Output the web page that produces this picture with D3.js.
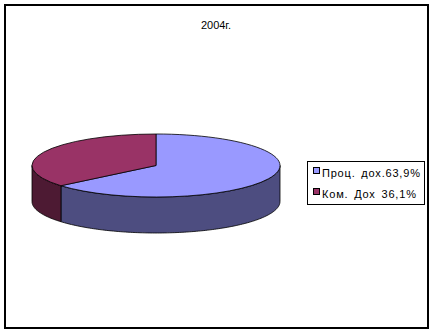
<!DOCTYPE html>
<html>
<head>
<meta charset="utf-8">
<script src="https://cdn.jsdelivr.net/npm/d3@7"></script>
<style>
  body { margin: 0; background: #fff; }
  text { font-family: "Liberation Sans", Arial, sans-serif; fill: #000; }
</style>
</head>
<body>
<div id="chart"></div>
<script>
var
  width = 433,
  height = 333,
  title = '2004г.',
  labels = ['Проц. дох.63,9%', 'Ком. Дох 36,1%'],
  values = [63.9, 36.1],
  topColors = ['#9999ff', '#993366'],
  sideColors = ['#4d4d80', '#4d1a33'];

var
  cx = 156,
  cy = 165.5,
  rx = 124,
  ry = 31.5,
  depth = 36;

var svg = d3.select('#chart').append('svg')
  .attr('width', width)
  .attr('height', height);

// outer frame
svg.append('rect')
  .attr('x', 5).attr('y', 5)
  .attr('width', 423).attr('height', 323)
  .attr('fill', '#fff')
  .attr('stroke', '#000')
  .attr('stroke-width', 2);

svg.append('text')
  .attr('x', 216)
  .attr('y', 29)
  .attr('text-anchor', 'middle')
  .attr('font-size', '11px')
  .text(title);

var pie = d3.pie().sort(null).startAngle(0).endAngle(2 * Math.PI);
var arcs = pie(values);

function pt(a, dy) {
  return [cx + rx * Math.sin(a), cy - ry * Math.cos(a) + (dy || 0)];
}

// side walls, only the front half (PI/2 .. 3PI/2) is visible
var sides = svg.append('g').attr('class', 'sides');
arcs.forEach(function(d, i) {
  var a0 = Math.max(d.startAngle, Math.PI / 2),
      a1 = Math.min(d.endAngle, Math.PI * 3 / 2);
  if (a1 <= a0) return;
  var steps = d3.range(a0, a1, 0.02).concat([a1]);
  var p = d3.path();
  steps.forEach(function(a, k) {
    var q = pt(a);
    if (k === 0) p.moveTo(q[0], q[1]); else p.lineTo(q[0], q[1]);
  });
  steps.slice().reverse().forEach(function(a) {
    var q = pt(a, depth);
    p.lineTo(q[0], q[1]);
  });
  p.closePath();
  sides.append('path')
    .attr('d', p.toString())
    .attr('fill', sideColors[i])
    .attr('stroke', '#000')
    .attr('stroke-width', 0.8)
    .attr('stroke-linejoin', 'round');
});

// top faces
var arc = d3.arc().innerRadius(0).outerRadius(rx);
svg.append('g')
  .attr('transform', 'translate(' + cx + ',' + cy + ') scale(1,' + (ry / rx) + ')')
  .selectAll('path')
  .data(arcs)
  .enter().append('path')
  .attr('d', arc)
  .attr('fill', function(d, i) { return topColors[i]; })
  .attr('stroke', '#000')
  .attr('stroke-width', 0.8)
  .attr('vector-effect', 'non-scaling-stroke');

// legend
var legend = svg.append('g').attr('class', 'legend');
legend.append('rect')
  .attr('x', 307.5).attr('y', 161.5)
  .attr('width', 117).attr('height', 43)
  .attr('fill', '#fff')
  .attr('stroke', '#000');

var items = legend.selectAll('g.item')
  .data(labels)
  .enter().append('g')
  .attr('class', 'item')
  .attr('transform', function(d, i) { return 'translate(0,' + (i * 21) + ')'; });

items.append('rect')
  .attr('x', 313.5).attr('y', 167.5)
  .attr('width', 6).attr('height', 6)
  .attr('fill', function(d, i) { return topColors[i]; })
  .attr('stroke', '#000');

items.append('text')
  .attr('x', 322)
  .attr('y', 176.5)
  .attr('font-size', '11px')
  .attr('letter-spacing', '0.8px')
  .attr('word-spacing', '2px')
  .text(function(d) { return d; });
</script>
</body>
</html>
